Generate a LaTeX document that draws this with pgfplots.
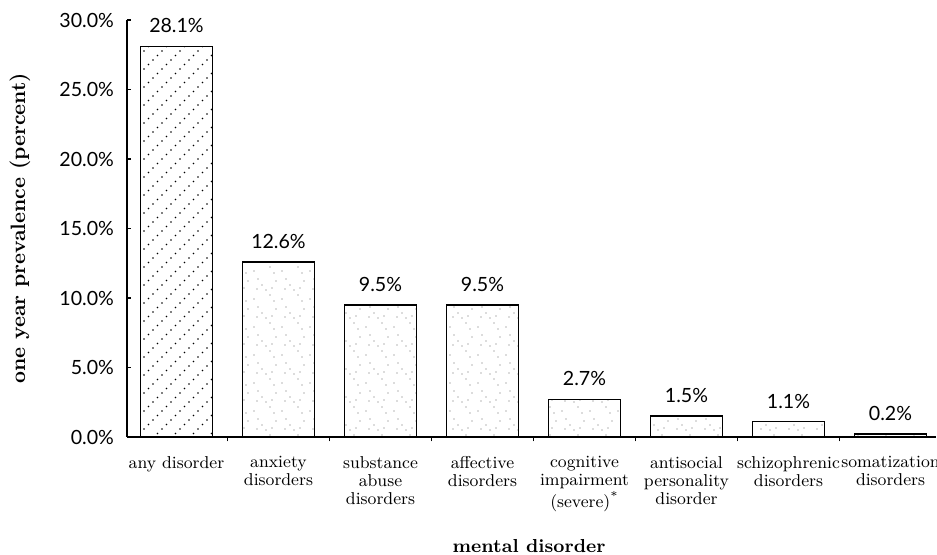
\documentclass[border=0pt]{standalone}
\usepackage{fontspec}
\usepackage{pgfplots}
\pgfplotsset{compat=1.18}
\usetikzlibrary{patterns}
\newfontfamily\tickfont{Lato}

\pgfdeclarepatternformonly{diagdots}{\pgfqpoint{-0.5pt}{-0.5pt}}{\pgfqpoint{9.5pt}{9.5pt}}{\pgfqpoint{9pt}{9pt}}{%
  \pgfpathcircle{\pgfqpoint{0pt}{0pt}}{0.42pt}%
  \pgfpathcircle{\pgfqpoint{2.25pt}{2.25pt}}{0.42pt}%
  \pgfpathcircle{\pgfqpoint{4.5pt}{4.5pt}}{0.42pt}%
  \pgfpathcircle{\pgfqpoint{6.75pt}{6.75pt}}{0.42pt}%
  \pgfusepath{fill}}

\pgfdeclarepatternformonly{stipple}{\pgfqpoint{-0.5pt}{-0.5pt}}{\pgfqpoint{14.5pt}{14.5pt}}{\pgfqpoint{14pt}{14pt}}{%
  \pgfpathcircle{\pgfqpoint{1pt}{2pt}}{0.3pt}%
  \pgfpathcircle{\pgfqpoint{5pt}{9pt}}{0.3pt}%
  \pgfpathcircle{\pgfqpoint{9pt}{4pt}}{0.3pt}%
  \pgfpathcircle{\pgfqpoint{12pt}{11pt}}{0.3pt}%
  \pgfpathcircle{\pgfqpoint{3pt}{12pt}}{0.3pt}%
  \pgfpathcircle{\pgfqpoint{7pt}{6.5pt}}{0.3pt}%
  \pgfpathcircle{\pgfqpoint{11pt}{1pt}}{0.3pt}%
  \pgfpathcircle{\pgfqpoint{2.5pt}{7pt}}{0.3pt}%
  \pgfpathcircle{\pgfqpoint{10pt}{7.5pt}}{0.3pt}%
  \pgfusepath{fill}}

\begin{document}
\begin{tikzpicture}
\useasboundingbox (-63.5pt,-59pt) rectangle (405pt,218.5pt);
\begin{axis}[
  at={(0,0)}, anchor=south west,
  scale only axis,
  width=404.5pt, height=208.5pt,
  ymin=0, ymax=30,
  xmin=-0.485, xmax=7.446,
  axis x line*=bottom, axis y line*=left,
  axis line style={line width=0.75pt},
  ytick={0,5,...,30},
  yticklabel={\pgfmathprintnumber[fixed,fixed zerofill,precision=1]{\tick}\%},
  /pgf/number format/assume math mode=true,
  yticklabel style={font=\tickfont\fontsize{9.8}{10}\selectfont, xshift=-3pt},
  tick align=inside,
  major tick length=2pt, minor tick length=2.2pt,
  tick style={line width=0.75pt, black},
  xtick={0,...,7},
  major x tick style={draw=none},
  minor xtick={0.5,1.5,...,6.5},
  xticklabels={any disorder, {anxiety\\disorders}, {substance\\abuse\\disorders}, {affective\\disorders}, {cognitive\\impairment\\(severe)\textsuperscript{*}}, {antisocial\\personality\\disorder}, {schizophrenic\\disorders}, {somatization\\disorders}},
  xticklabel style={align=center, font=\fontsize{8.6}{9}\selectfont, yshift=-4.3pt},
  ylabel={one year prevalence (percent)},
  ylabel style={at={(axis description cs:-0.1324,0.5)}, anchor=center, font=\bfseries\fontsize{10.4}{11}\selectfont},
  xlabel={mental disorder},
  xlabel style={at={(axis description cs:0.497,-0.261)}, anchor=center, font=\bfseries\fontsize{9.4}{10}\selectfont},
  ybar, bar width=36pt,
  nodes near coords={\pgfmathprintnumber[fixed,fixed zerofill,precision=1]{\pgfplotspointmeta}\%},
  every node near coord/.append style={font=\tickfont\fontsize{9.8}{10}\selectfont, yshift=3pt},
  clip=false,
]
\addplot[bar shift=0pt, draw=black, line width=0.75pt, pattern=diagdots, pattern color=black] coordinates {(0,28.1)};
\addplot[bar shift=0pt, draw=black, line width=0.75pt, pattern=stipple, pattern color=black!60] coordinates {(1,12.6) (2,9.5) (3,9.5) (4,2.7) (5,1.5) (6,1.1) (7,0.2)};
\end{axis}
\end{tikzpicture}
\end{document}
